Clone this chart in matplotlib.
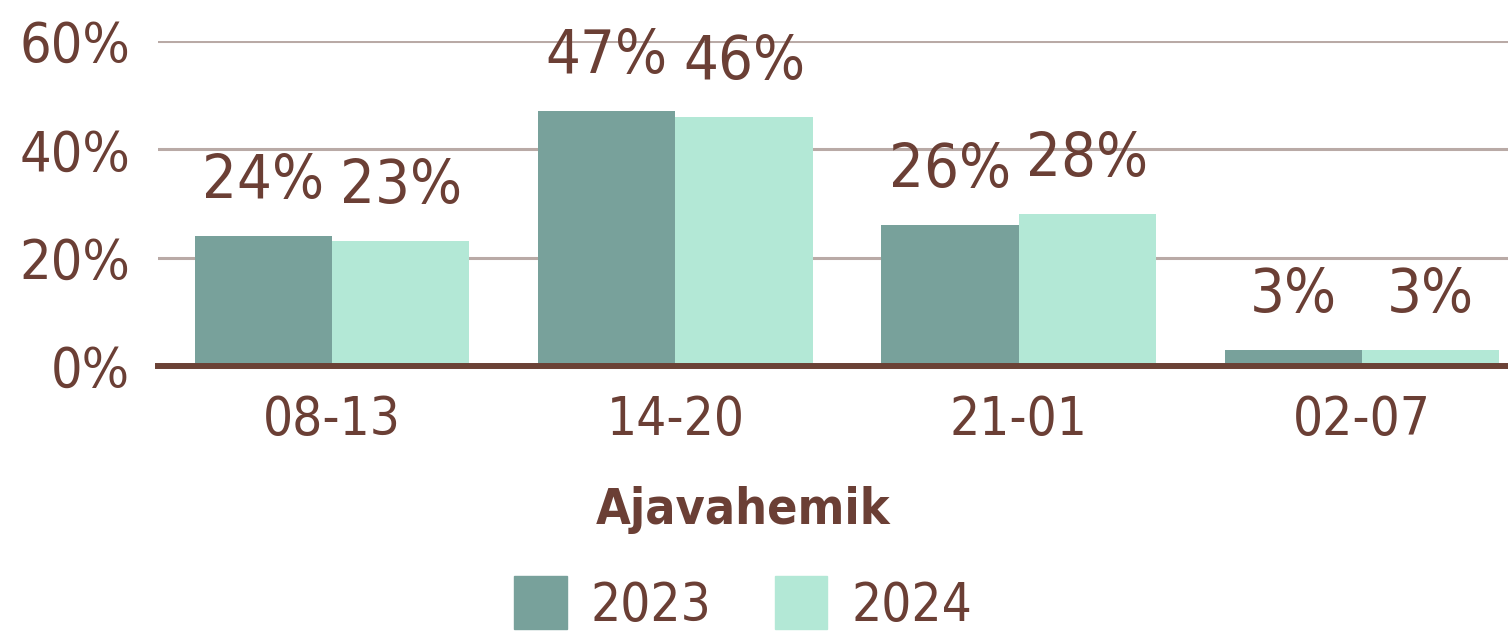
import matplotlib
matplotlib.use("Agg")
import matplotlib.pyplot as plt
import numpy as np
from matplotlib.patches import Patch

plt.rcParams['font.family'] = ['DejaVu Sans']
plt.rcParams['font.stretch'] = 'condensed'

categories = ['08-13', '14-20', '21-01', '02-07']
years = ['2023', '2024']
values_2023 = [24, 47, 26, 3]
values_2024 = [23, 46, 28, 3]
y_ticks = [0, 20, 40, 60]

text_col = '#6b3f35'
dark = '#78a19b'
light = '#b3e8d6'
grid_col = '#b9aaa6'

fig = plt.figure(figsize=(15.08, 6.34), dpi=100)
ax = fig.add_axes([158 / 1508, (634 - 366) / 634, 1350 / 1508, (366 - 41) / 634])

x = np.arange(len(categories))
w = 0.4
b1 = ax.bar(x - w / 2, values_2023, w, color=dark, zorder=2)
b2 = ax.bar(x + w / 2, values_2024, w, color=light, zorder=2)

for bars in (b1, b2):
    ax.bar_label(bars, labels=['%d%%' % v for v in bars.datavalues],
                 padding=18, fontsize=44, color=text_col)

ax.set_xlim(-0.507, 3.425)
ax.set_ylim(0, 60)
ax.set_yticks(y_ticks)
ax.set_yticklabels(['%d%%' % t for t in y_ticks])
ax.set_xticks(x)
ax.set_xticklabels(categories)
ax.tick_params(axis='y', length=0, pad=20, labelsize=40, labelcolor=text_col)
ax.tick_params(axis='x', length=0, pad=20, labelsize=38, labelcolor=text_col)

ax.yaxis.grid(True, color=grid_col, linewidth=2.2, zorder=0)
ax.set_axisbelow(True)
for s in ax.spines.values():
    s.set_visible(False)
ax.axhline(0, color='#6b4236', linewidth=4.3, zorder=3, clip_on=False)

fig.text(743 / 1508, (634 - 510) / 634, 'Ajavahemik', ha='center', va='center',
         fontsize=36, fontweight='bold', color=text_col)

handles = [Patch(color=dark), Patch(color=light)]
fig.legend(handles, years, loc='center', bbox_to_anchor=(743 / 1508, (634 - 604) / 634),
           ncol=2, frameon=False, fontsize=38, labelcolor=text_col,
           handlelength=1.0, handleheight=1.15, handletextpad=0.45, columnspacing=1.2,
           borderpad=0)

fig.savefig('out.png', dpi=100, facecolor='white')
